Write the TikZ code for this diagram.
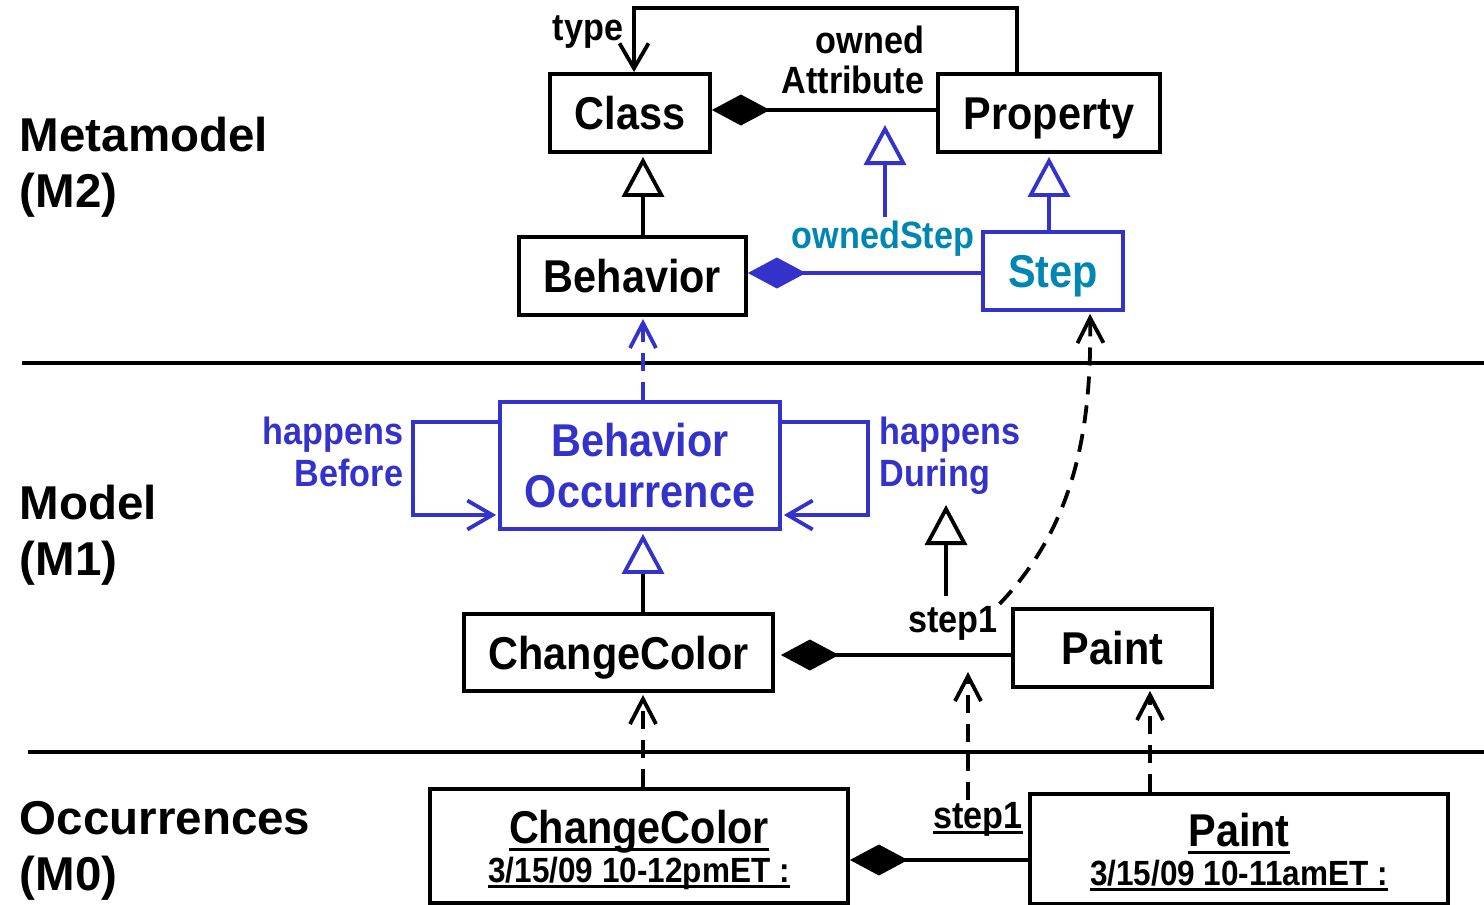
\documentclass[tikz,border=0pt]{standalone}
\usepackage{fontspec}
\setmainfont{Liberation Sans}[FakeStretch=0.9]
\newfontfamily\sidefont{Liberation Sans}
\usetikzlibrary{arrows.meta}
\definecolor{umlblue}{RGB}{51,51,204}
\definecolor{umlteal}{RGB}{0,134,178}
% underlined text with a thick rule
\newsavebox\ulbox
\newcommand\ulx[2][7pt]{\sbox\ulbox{#2}\rlap{\rule[-#1]{\wd\ulbox}{3pt}}\usebox\ulbox}
\newcommand\boxfont{\fontsize{46}{51}\selectfont\bfseries}
\newcommand\labfont{\fontsize{38}{42}\selectfont\bfseries}
\newcommand\datefont{\fontsize{35}{39}\selectfont\bfseries}
\newcommand\layerfont{\sidefont\fontsize{47.5}{56}\selectfont\bfseries}
\begin{document}
\begin{tikzpicture}[x=1pt,y=-1pt,line width=3.8pt,
  umlbox/.style={draw, line width=3.8pt, inner sep=0pt, text height=33pt, text depth=0pt, font=\boxfont},
  lab/.style={inner sep=0pt, font=\labfont},
  layer/.style={anchor=north west, inner sep=0pt, align=left, font=\layerfont},
  comp/.style={{Diamond[length=58pt,width=31pt]}-},
  gen/.style={-{Triangle[open,length=40pt,width=42pt]}},
  dep/.style={dash pattern=on 18pt off 11pt, -{Straight Barb[length=25pt,width=26pt]}},
  nav/.style={-{Straight Barb[length=25pt,width=29pt]}},
  sep/.style={line width=3.8pt}
]
\useasboundingbox (0,0) rectangle (1484,905);

% layer separators
\draw[sep] (22,363) -- (1484,363);
\draw[sep] (28,752) -- (1484,752);

% layer titles
\node[layer] (m2) at (18,115) {Metamodel\\(M2)};
\node[layer] (m1) at (18,483) {Model\\(M1)};
\node[layer] (m0) at (18,799) {Occurrences\\(M0)};

% metamodel classes
\node[umlbox, minimum width=160pt, minimum height=78pt] (cls) at (630,113) {Class};
\node[umlbox, minimum width=222pt, minimum height=78pt] (prop) at (1049,113) {Property};
\node[umlbox, minimum width=227pt, minimum height=78pt] (beh) at (632.5,276) {Behavior};
\node[umlbox, draw=umlblue, text=umlteal, minimum width=140pt, minimum height=78pt] (step) at (1053,271) {Step};

% model classes (two-line text: height spans both lines, baseline on the last one)
\node[umlbox, draw=umlblue, text=umlblue, align=center, text height=84pt, text depth=0pt,
      minimum width=280pt, minimum height=127pt] (bo) at (640,465.5) {Behavior\\Occurrence};
\node[umlbox, minimum width=309pt, minimum height=77pt] (cc) at (618.5,652.5) {ChangeColor};
\node[umlbox, minimum width=199pt, minimum height=78pt] (paint) at (1112.5,648) {Paint};

% occurrences
\node[umlbox, align=center, font=\fontsize{46}{39}\selectfont\bfseries, text height=72pt, text depth=0pt,
      minimum width=418pt, minimum height=114pt] (cci) at (639,846)
      {\ulx[8pt]{ChangeColor}\\{\datefont\ulx[6pt]{3/15/09 10-12pmET :}}};
\node[umlbox, align=center, font=\fontsize{46}{39}\selectfont\bfseries, text height=72pt, text depth=0pt,
      minimum width=418pt, minimum height=110pt] (pi) at (1239,849)
      {\ulx[8pt]{Paint}\\{\datefont\ulx[6pt]{3/15/09 10-11amET :}}};

% association labels
\node[lab, anchor=base east] (typelab) at (625,40) {type};
\node[lab, anchor=north east, align=right, font=\fontsize{38}{40}\selectfont\bfseries] (oalab) at (926,24) {owned\\Attribute};
\node[lab, anchor=base, text=umlteal] (oslab) at (883,248) {ownedStep};
\node[lab, anchor=north east, align=right, text=umlblue] (hblab) at (405,415) {happens\\Before};
\node[lab, anchor=north west, align=left, text=umlblue] (hdlab) at (878,415) {happens\\During};
\node[lab, anchor=base] (s1) at (953,632) {step1};
\node[lab, anchor=base] (s0) at (978,828) {\ulx[6pt]{step1}};

% free ends of subsetting / link arrows
\coordinate (oatip) at (885,125);
\coordinate (hdtip) at (946,505);
\coordinate (lnktip) at (968,672);

% metamodel connectors
\draw[nav] ([xshift=-32pt]prop.north) -- ++(0,-64) -| ([xshift=4pt]cls.north);
\draw[comp] ([yshift=3pt]cls.east) -- ([yshift=3pt]cls.east -| prop.west);
\draw[gen, umlblue, shorten <=2pt] (oslab.north -| oatip) -- (oatip);
\draw[gen, shorten >=3pt] ([xshift=10.5pt]beh.north) -- ([xshift=10.5pt]beh.north |- cls.south);
\draw[comp, umlblue] ([yshift=-2pt]step.west -| beh.east) -- ([yshift=-2pt]step.west);
\draw[gen, umlblue, shorten >=3pt] (prop.south |- step.north) -- (prop.south);

% model connectors
\draw[dep, umlblue, shorten >=2pt] ([xshift=3pt]bo.north) -- ([xshift=3pt]bo.north |- beh.south);
\draw[nav, umlblue, shorten >=2pt] ([yshift=43.5pt]bo.west) -- ++(-85,0) |- ([yshift=-49.5pt]bo.west);
\draw[nav, umlblue, shorten >=2pt] ([yshift=43.5pt]bo.east) -- ++(86,0) |- ([yshift=-49.5pt]bo.east);
\draw[-{Triangle[open,length=40pt,width=42pt,color=umlblue]}, shorten >=3pt]
  ([xshift=24.5pt]cc.north) -- ([xshift=24.5pt]cc.north |- bo.south);
\draw[comp, shorten <=6pt] ([yshift=-2.5pt]cc.east) -- ([yshift=-2.5pt]cc.east -| paint.west);
\draw[gen, shorten <=8pt] (s1.north -| hdtip) -- (hdtip);
\draw[dep, shorten >=2pt] (s1.north east) .. controls (1070,530) and (1092,440) .. ([xshift=37pt]step.south);

% occurrence connectors
\draw[dep, shorten >=2pt] ([xshift=4pt]cci.north) -- ([xshift=4pt]cci.north |- cc.south);
\draw[dep] (s0.north -| lnktip) -- (lnktip);
\draw[dep, shorten >=2pt] ([xshift=37.5pt]paint.south |- pi.north) -- ([xshift=37.5pt]paint.south);
\draw[comp] ([yshift=-14pt]cci.east) -- ([yshift=-14pt]cci.east -| pi.west);
\end{tikzpicture}
\end{document}
